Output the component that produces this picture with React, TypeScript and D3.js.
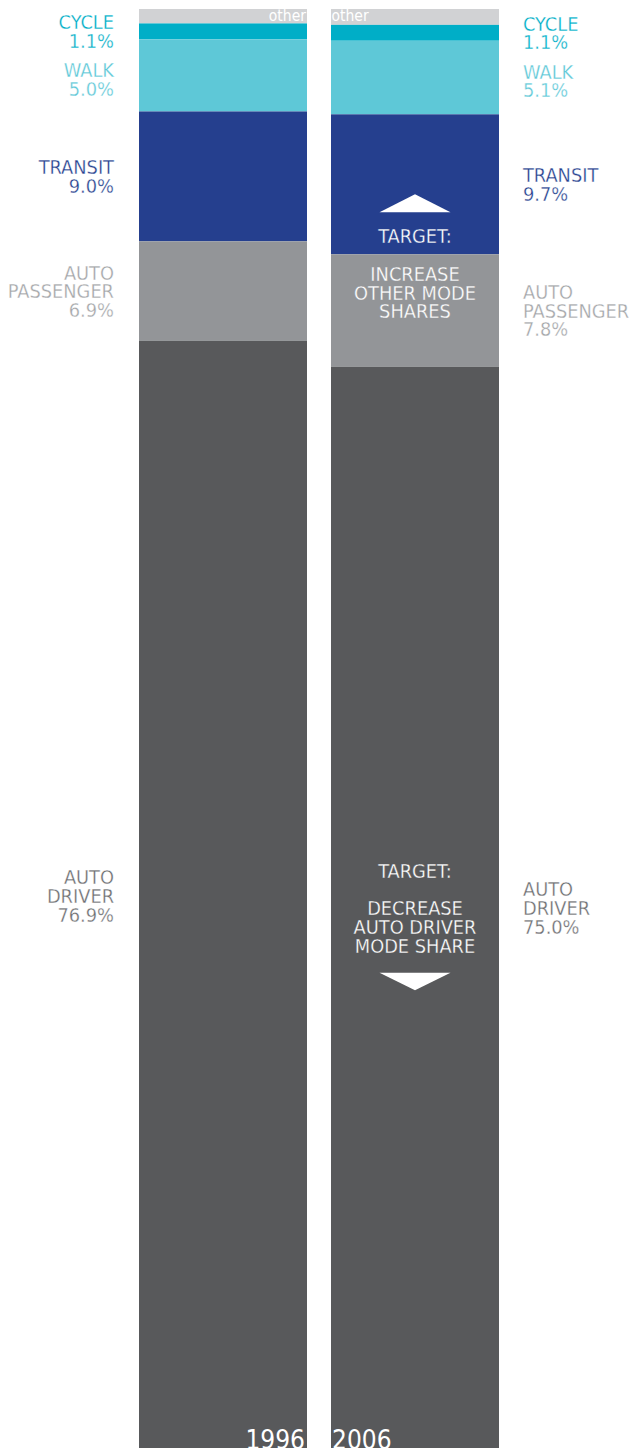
import React from "react";
import * as d3 from "d3";

// ---- data ----
const years = ["1996", "2006"];
const modes = ["other", "cycle", "walk", "transit", "autoPassenger", "autoDriver"];
const modeLabels = [["other"], ["CYCLE"], ["WALK"], ["TRANSIT"], ["AUTO", "PASSENGER"], ["AUTO", "DRIVER"]];
const shares1996 = [1.0, 1.1, 5.0, 9.0, 6.9, 76.9];
const shares2006 = [1.1, 1.1, 5.1, 9.7, 7.8, 75.0];
const targetUpLines = ["TARGET:", "INCREASE", "OTHER MODE", "SHARES"];
const targetDownLines = ["TARGET:", "", "DECREASE", "AUTO DRIVER", "MODE SHARE"];

// ---- style ----
const W = 631;
const H = 1448;
const FONT = "'DejaVu Sans Condensed', 'Liberation Sans Narrow', sans-serif";
const FS = 19.8;
const CAP = 14.3;
const LH = 18.7;
const GAP = 15;
const THIN = 0.3;
const fills: Record<string, string> = {
  other: "#d1d2d4",
  cycle: "#00aec7",
  walk: "#5ec8d7",
  transit: "#253f8e",
  autoPassenger: "#939598",
  autoDriver: "#58595b",
};
const labelColors: Record<string, string> = {
  other: "#ffffff",
  cycle: "#00aec7",
  walk: "#5ec8d7",
  transit: "#253f8e",
  autoPassenger: "#a3a5a8",
  autoDriver: "#6d6e71",
};

type Seg = { mode: string; idx: number; v: number; y0: number; y1: number };

export default function App() {
  const x = d3.scaleBand<string>().domain(years).range([139, 499]).paddingInner(0.125);
  const y = d3.scaleLinear().domain([0, 100]).range([9, 1452]);
  const bw = x.bandwidth();
  const fmt = d3.format(".1f");

  const stacks: Seg[][] = [shares1996, shares2006].map((vals) => {
    const ends = Array.from(d3.cumsum(vals));
    return vals.map((v, i) => ({ mode: modes[i], idx: i, v, y0: ends[i] - v, y1: ends[i] }));
  });

  const layout = (stack: Seg[]) => {
    let prevBottom = -Infinity;
    return stack.slice(1).map((s) => {
      const lines = [...modeLabels[s.idx], fmt(s.v) + "%"];
      const h = CAP + (lines.length - 1) * LH;
      const mid = (y(s.y0) + y(s.y1)) / 2;
      const top = Math.max(mid - h / 2, prevBottom + GAP);
      prevBottom = top + h;
      return { s, lines, top };
    });
  };

  const leftX = (x(years[0]) as number) - 25;
  const rightX = (x(years[1]) as number) + bw + 24;
  const x2006 = x(years[1]) as number;
  const cx2006 = x2006 + bw / 2;

  // upper annotation anchored on transit / auto passenger boundary of 2006
  const s2006 = stacks[1];
  const boundary = y(s2006[3].y1);
  const upTri = d3.path();
  upTri.moveTo(cx2006, boundary - 60);
  upTri.lineTo(cx2006 + 35.5, boundary - 42);
  upTri.lineTo(cx2006 - 35.5, boundary - 42);
  upTri.closePath();

  // lower annotation centred on the auto driver segment of 2006
  const driverMid = (y(s2006[5].y0) + y(s2006[5].y1)) / 2;
  const ALH = 18.8;
  const downTop = driverMid - (CAP + (targetDownLines.length - 1) * ALH) / 2;
  const downLastBase = downTop + CAP + (targetDownLines.length - 1) * ALH;
  const downTri = d3.path();
  downTri.moveTo(cx2006 - 35.5, downLastBase + 20);
  downTri.lineTo(cx2006 + 35.5, downLastBase + 20);
  downTri.lineTo(cx2006, downLastBase + 37.5);
  downTri.closePath();

  const thin = (bg: string) => ({ stroke: bg, strokeWidth: THIN, strokeLinejoin: "round" as const });

  return (
    <svg
      width={W}
      height={H}
      style={{ position: "absolute", left: 0, top: 0, display: "block", background: "#ffffff" }}
      fontFamily={FONT}
    >
      {stacks.map((stack, bi) => (
        <g key={years[bi]}>
          {stack.map((s) => (
            <rect
              key={s.mode}
              x={x(years[bi])}
              y={y(s.y0)}
              width={bw}
              height={y(s.y1) - y(s.y0)}
              fill={fills[s.mode]}
            />
          ))}
        </g>
      ))}

      {/* "other" labels */}
      <text x={(x(years[0]) as number) + bw - 1} y={y(0) + 12} fontSize={15.5} fill={labelColors.other} textAnchor="end">
        {modeLabels[0][0]}
      </text>
      <text x={x2006 + 0.5} y={y(0) + 12} fontSize={15.5} fill={labelColors.other} textAnchor="start">
        {modeLabels[0][0]}
      </text>

      {/* side labels */}
      {stacks.map((stack, bi) =>
        layout(stack).map(({ s, lines, top }) => (
          <text
            key={years[bi] + s.mode}
            x={bi === 0 ? leftX : rightX}
            textAnchor={bi === 0 ? "end" : "start"}
            fontSize={FS}
            fill={labelColors[s.mode]}
            {...thin("#ffffff")}
          >
            {lines.map((l, li) => (
              <tspan key={li} x={bi === 0 ? leftX : rightX} y={top + CAP + li * LH}>
                {l}
              </tspan>
            ))}
          </text>
        ))
      )}

      {/* targets */}
      <path d={upTri.toString()} fill="#ffffff" />
      <text x={cx2006} y={boundary - 11} textAnchor="middle" fontSize={FS} fill="#ffffff" {...thin(fills.transit)}>
        {targetUpLines[0]}
      </text>
      <text textAnchor="middle" fontSize={FS} fill="#ffffff" {...thin(fills.autoPassenger)}>
        {targetUpLines.slice(1).map((l, i) => (
          <tspan key={i} x={cx2006} y={boundary + 26.5 + i * ALH}>
            {l}
          </tspan>
        ))}
      </text>
      <text textAnchor="middle" fontSize={FS} fill="#ffffff" {...thin(fills.autoDriver)}>
        {targetDownLines.map((l, i) => (
          <tspan key={i} x={cx2006} y={downTop + CAP + i * ALH}>
            {l}
          </tspan>
        ))}
      </text>
      <path d={downTri.toString()} fill="#ffffff" />

      {/* year labels */}
      <text x={(x(years[0]) as number) + bw - 2} y={1449} fontSize={26} fill="#ffffff" textAnchor="end">
        {years[0]}
      </text>
      <text x={x2006 + 1} y={1449} fontSize={26} fill="#ffffff" textAnchor="start">
        {years[1]}
      </text>
    </svg>
  );
}
